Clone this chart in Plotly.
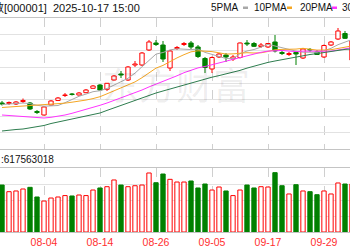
import plotly.graph_objects as go

dates = ["07-25", "07-28", "07-29", "07-30", "07-31", "08-01", "08-04", "08-05", "08-06", "08-07",
         "08-08", "08-11", "08-12", "08-13", "08-14", "08-15", "08-18", "08-19", "08-20", "08-21",
         "08-22", "08-25", "08-26", "08-27", "08-28", "08-29", "09-01", "09-02", "09-03", "09-04",
         "09-05", "09-08", "09-09", "09-10", "09-11", "09-12", "09-15", "09-16", "09-17", "09-18",
         "09-19", "09-22", "09-23", "09-24", "09-25", "09-26", "09-29", "09-30", "10-09", "10-10",
         "10-13"]

open_ = [3600.7, 3598.4, 3596.1, 3607.6, 3600.7, 3561.8, 3545.7, 3591.5, 3612.3, 3635.0,
         3641.9, 3637.3, 3647.9, 3668.0, 3683.1, 3663.5, 3706.0, 3733.5, 3706.0, 3774.7,
         3774.7, 3843.4, 3875.5, 3866.3, 3761.0, 3850.3, 3868.6, 3875.5, 3857.2, 3804.5,
         3756.4, 3811.4, 3820.5, 3802.2, 3809.1, 3875.5, 3873.2, 3859.5, 3857.2, 3880.1,
         3832.0, 3822.8, 3832.0, 3806.8, 3845.7, 3834.3, 3811.4, 3866.3, 3893.8, 3919.0,
         3797.6]
high = [3609.9, 3607.6, 3609.9, 3621.3, 3605.3, 3568.6, 3587.0, 3614.4, 3628.2, 3646.5,
        3646.5, 3651.1, 3664.8, 3683.1, 3687.7, 3692.3, 3728.9, 3747.3, 3770.2, 3793.1,
        3834.3, 3889.2, 3889.2, 3884.7, 3843.4, 3861.8, 3880.1, 3884.7, 3866.3, 3811.4,
        3813.7, 3829.7, 3829.7, 3820.5, 3877.8, 3889.2, 3880.1, 3875.5, 3873.2, 3912.1,
        3838.9, 3834.3, 3838.9, 3852.6, 3852.6, 3843.4, 3868.6, 3884.7, 3944.2, 3930.5,
        3889.2]
low = [3589.2, 3591.5, 3591.5, 3600.7, 3568.6, 3550.3, 3543.5, 3589.2, 3609.9, 3628.2,
       3635.0, 3635.0, 3646.5, 3667.1, 3655.7, 3655.7, 3703.7, 3715.2, 3701.5, 3765.6,
       3770.2, 3838.9, 3861.8, 3788.5, 3747.3, 3843.4, 3861.8, 3848.0, 3806.8, 3738.1,
       3738.1, 3806.8, 3788.5, 3793.1, 3804.5, 3861.8, 3857.2, 3852.6, 3852.6, 3832.0,
       3820.5, 3816.0, 3774.7, 3802.2, 3834.3, 3820.5, 3806.8, 3861.8, 3889.2, 3893.8,
       3788.5]
close = [3596.1, 3603.0, 3605.3, 3612.3, 3573.2, 3557.2, 3582.4, 3609.9, 3623.6, 3637.3,
         3639.6, 3646.5, 3660.2, 3678.6, 3660.2, 3690.9, 3724.4, 3728.9, 3765.6, 3779.3,
         3829.7, 3880.1, 3868.6, 3802.2, 3838.9, 3854.9, 3873.2, 3857.2, 3813.7, 3763.3,
         3809.1, 3825.1, 3811.4, 3811.4, 3875.5, 3870.9, 3860.4, 3866.3, 3873.2, 3838.9,
         3827.4, 3827.4, 3825.1, 3848.0, 3843.4, 3822.8, 3864.0, 3880.1, 3930.5, 3897.0,
         3884.7]

ma5 = [3593.8, 3596.1, 3598.4, 3600.7, 3598.0, 3590.2, 3586.0, 3587.0, 3589.2, 3602.1,
       3618.6, 3631.4, 3641.5, 3652.5, 3657.0, 3667.1, 3682.7, 3696.4, 3713.8, 3737.6,
       3765.6, 3796.7, 3824.7, 3832.0, 3843.9, 3848.9, 3847.6, 3845.3, 3847.6, 3832.5,
       3823.3, 3813.7, 3804.5, 3804.1, 3826.5, 3838.9, 3845.7, 3856.7, 3869.1, 3861.8,
       3853.1, 3846.7, 3838.4, 3833.4, 3833.8, 3832.9, 3840.2, 3851.2, 3867.7, 3879.2,
       3891.5]
ma10 = [3580.1, 3582.4, 3584.7, 3587.0, 3589.2, 3590.2, 3591.5, 3593.8, 3596.1, 3600.0,
        3604.4, 3608.7, 3614.2, 3620.9, 3629.6, 3642.8, 3657.0, 3668.9, 3683.1, 3697.3,
        3716.6, 3739.9, 3760.5, 3772.9, 3790.8, 3807.3, 3822.1, 3835.0, 3839.8, 3838.2,
        3836.1, 3830.6, 3824.9, 3825.8, 3829.5, 3831.1, 3829.7, 3830.6, 3836.6, 3844.4,
        3846.2, 3846.2, 3847.6, 3851.2, 3848.0, 3843.0, 3843.4, 3844.8, 3850.5, 3856.5,
        3862.2]
ma20 = [3545.7, 3543.5, 3541.2, 3538.9, 3536.6, 3534.3, 3532.0, 3535.2, 3539.8, 3545.7,
        3553.5, 3561.8, 3570.9, 3580.1, 3590.2, 3600.7, 3612.3, 3623.6, 3636.0, 3648.8,
        3660.2, 3674.4, 3687.3, 3696.9, 3710.2, 3725.3, 3739.5, 3751.8, 3761.5, 3767.9,
        3776.1, 3785.3, 3792.6, 3799.5, 3810.0, 3819.2, 3826.0, 3832.9, 3838.4, 3841.2,
        3841.2, 3838.4, 3836.1, 3838.4, 3838.9, 3837.0, 3836.6, 3837.9, 3843.4, 3850.3,
        3854.0]
ma30 = [3472.5, 3477.0, 3479.3, 3481.6, 3486.2, 3490.8, 3497.7, 3506.8, 3513.7, 3520.6,
        3527.4, 3534.3, 3541.2, 3548.0, 3554.9, 3566.8, 3578.3, 3590.2, 3602.1, 3614.0,
        3625.4, 3637.3, 3646.5, 3655.7, 3664.8, 3674.0, 3683.1, 3692.3, 3702.4, 3712.0,
        3718.9, 3726.2, 3733.1, 3739.9, 3750.0, 3760.5, 3769.7, 3778.4, 3786.7, 3793.1,
        3799.5, 3805.4, 3810.9, 3816.9, 3822.8, 3827.0, 3832.0, 3837.0, 3842.5, 3846.2,
        3848.0]

volume = [7.34, 6.30, 6.41, 6.72, 6.98, 5.47, 4.84, 5.31, 5.47, 5.69,
          5.63, 5.78, 5.69, 6.56, 6.88, 7.08, 8.13, 7.34, 7.08, 7.23,
          7.34, 9.22, 7.70, 9.06, 8.23, 7.81, 7.81, 7.97, 6.88, 7.50,
          6.56, 7.03, 6.41, 5.69, 6.56, 7.34, 6.88, 7.08, 7.03, 9.27,
          7.23, 5.94, 7.39, 6.41, 6.30, 5.83, 6.41, 5.94, 7.66, 7.50,
          7.50]

tick_labels = ["08-04", "08-14", "08-26", "09-05", "09-17", "09-29"]
header_text = "上证指数[000001]  2025-10-17 15:00"
legend_names = ["5PMA", "10PMA", "20PMA", "30PMA"]
volume_text = ":617563018"
watermark = "东方财富"

RED = "#ff0000"
GREEN = "#008000"
MA_COLORS = ["#a8a8a8", "#f5a623", "#ff33ff", "#2e7d4f"]

W, H = 350, 250
xs = list(range(len(dates)))
tick_pos = [dates.index(t) for t in tick_labels]
up = [c >= o for o, c in zip(open_, close)]

fig = go.Figure()

# wicks
for is_up, col in ((True, RED), (False, GREEN)):
    wx, wy = [], []
    for i in xs:
        if up[i] != is_up:
            continue
        top = max(open_[i], close[i])
        bot = min(open_[i], close[i])
        wx += [i, i, None, i, i, None]
        wy += [top, high[i], None, low[i], bot, None]
    fig.add_trace(go.Scatter(x=wx, y=wy, mode="lines", line=dict(color=col, width=1),
                             hoverinfo="skip", xaxis="x", yaxis="y"))

# bodies
for is_up, col, fill in ((True, RED, "#ffffff"), (False, GREEN, GREEN)):
    bx = [i for i in xs if up[i] == is_up]
    base = [min(open_[i], close[i]) for i in bx]
    hgt = [max(abs(close[i] - open_[i]), 2.5) for i in bx]
    fig.add_trace(go.Bar(x=bx, y=hgt, base=base, width=0.62,
                         marker=dict(color=fill, line=dict(color=col, width=1)),
                         xaxis="x", yaxis="y"))

# moving averages
for ser, col in zip([ma5, ma10, ma20, ma30], MA_COLORS):
    fig.add_trace(go.Scatter(x=xs, y=ser, mode="lines", line=dict(color=col, width=1),
                             xaxis="x", yaxis="y"))

# volume
for is_up, col, fill in ((True, RED, "#ffffff"), (False, GREEN, GREEN)):
    vx = [i for i in xs if up[i] == is_up]
    vy = [volume[i] for i in vx]
    fig.add_trace(go.Bar(x=vx, y=vy, width=0.62,
                         marker=dict(color=fill, line=dict(color=col, width=1)),
                         xaxis="x2", yaxis="y2"))

xr = [-2 / 7, (W - 2) / 7]
common_x = dict(range=xr, tickmode="array", tickvals=tick_pos, ticktext=tick_labels,
                showgrid=True, gridcolor="#cfcfcf", griddash="dash", gridwidth=1,
                zeroline=False, showline=True, mirror=True, linecolor="#c4c4c4",
                linewidth=1, ticks="", fixedrange=True)

fig.update_layout(
    width=W, height=H, margin=dict(l=0, r=0, t=0, b=0),
    paper_bgcolor="white", plot_bgcolor="white", showlegend=False, barmode="overlay",
    xaxis=dict(domain=[0, 1], anchor="y", showticklabels=False, **common_x),
    xaxis2=dict(domain=[0, 1], anchor="y2", matches="x", showticklabels=True,
                tickfont=dict(family="Liberation Sans", size=10.5, color="#ff3030"), **common_x),
    yaxis=dict(domain=[1 - 149 / H, 1 - 18 / H], range=[3390, 3990], tick0=3390, dtick=75,
               showticklabels=False, gridcolor="#e2e2e2", zeroline=False, ticks=""),
    yaxis2=dict(domain=[1 - 232 / H, 1 - 168 / H], range=[0, 10], tick0=0, dtick=2.5,
                showticklabels=False, gridcolor="#e2e2e2", zeroline=False, ticks=""),
)

font_main = "Liberation Sans, Noto Sans CJK SC"
ann = []
ann.append(dict(text=header_text, x=142 / W, y=1 - 7.5 / H, xref="paper", yref="paper",
                xanchor="right", yanchor="middle", showarrow=False,
                font=dict(family=font_main, size=11, color="#111111")))
leg_x = [241, 252, 298, 340]
anchors = ["right", "left", "left", "left"]
for name, lx, anc in zip(legend_names, leg_x, anchors):
    ann.append(dict(text=name, x=lx / W, y=1 - 7.5 / H, xref="paper", yref="paper",
                    xanchor=anc, yanchor="middle", showarrow=False,
                    font=dict(family=font_main, size=10, color="#111111")))
ann.append(dict(text=volume_text, x=-1 / W, y=1 - 159 / H, xref="paper", yref="paper",
                xanchor="left", yanchor="middle", showarrow=False,
                font=dict(family=font_main, size=10, color="#111111")))
ann.append(dict(text=watermark, x=176 / W, y=1 - 84 / H, xref="paper", yref="paper",
                xanchor="center", yanchor="middle", showarrow=False,
                font=dict(family="Noto Sans CJK SC", size=37, color="rgba(0,0,0,0.07)")))
fig.update_layout(annotations=ann)

shapes = []
sw = [(243, 248), (287, 292), (332, 337), (370, 375)]
for (a, b), col in zip(sw, MA_COLORS):
    shapes.append(dict(type="rect", xref="paper", yref="paper", x0=a / W, x1=b / W,
                       y0=1 - 9 / H, y1=1 - 6.5 / H, fillcolor=col, line=dict(width=0)))
fig.update_layout(shapes=shapes)

fig.write_html("out.html")
